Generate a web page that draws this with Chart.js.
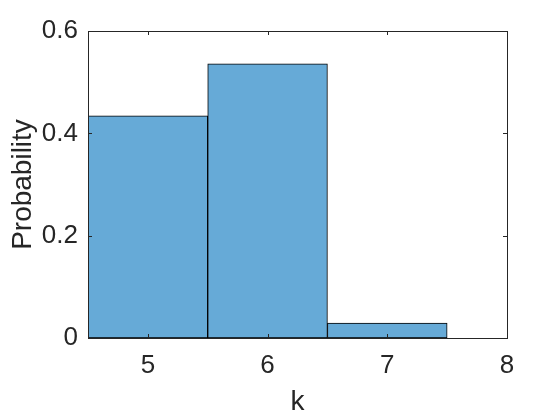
<!DOCTYPE html>
<html>
<head>
<meta charset="utf-8">
<script src="https://cdn.jsdelivr.net/npm/chart.js@4/dist/chart.umd.min.js"></script>
<style>
  html, body { margin: 0; padding: 0; background: #fff; }
  #wrap { width: 560px; height: 420px; }
</style>
</head>
<body>
<div id="wrap"><canvas id="hist"></canvas></div>
<script>
const kValues = [5, 6, 7];
const probabilities = [0.434, 0.536, 0.029];
const xTicks = [5, 6, 7, 8];
const yTicks = [0, 0.2, 0.4, 0.6];

const axisColor = '#262626';
const fontFamily = '"Liberation Sans", Arial, Helvetica, sans-serif';

// box around the plot plus inward ticks on all four sides, like matlab
const boxPlugin = {
    id: 'box',
    afterDatasetsDraw(chart) {
        const ctx = chart.ctx;
        const a = chart.chartArea;
        const xs = chart.scales.x;
        const ys = chart.scales.y;
        const len = 4;
        ctx.save();
        ctx.strokeStyle = axisColor;
        ctx.lineWidth = 1;
        ctx.beginPath();
        for (let v of xTicks) {
            const px = Math.round(xs.getPixelForValue(v)) + 0.5;
            ctx.moveTo(px, a.bottom);
            ctx.lineTo(px, a.bottom - len);
            ctx.moveTo(px, a.top);
            ctx.lineTo(px, a.top + len);
        }
        for (let v of yTicks) {
            const py = Math.round(ys.getPixelForValue(v)) + 0.5;
            ctx.moveTo(a.left, py);
            ctx.lineTo(a.left + len, py);
            ctx.moveTo(a.right, py);
            ctx.lineTo(a.right - len, py);
        }
        ctx.stroke();
        ctx.strokeRect(Math.round(a.left) + 0.5, Math.round(a.top) + 0.5,
            Math.round(a.right - a.left), Math.round(a.bottom - a.top));
        ctx.restore();
    }
};

new Chart(document.getElementById('hist'), {
    type: 'bar',
    data: {
        datasets: [{
            data: kValues.map((k, i) => ({ x: k, y: probabilities[i] })),
            backgroundColor: '#66AAD7',
            borderColor: '#000000',
            borderWidth: 1,
            borderSkipped: false,
            barPercentage: 1,
            categoryPercentage: 1
        }]
    },
    options: {
        responsive: true,
        maintainAspectRatio: false,
        animation: false,
        events: [],
        layout: { padding: { left: 0, right: 53, top: 31, bottom: 0 } },
        plugins: {
            legend: { display: false },
            tooltip: { enabled: false }
        },
        scales: {
            x: {
                type: 'linear',
                min: 4.5,
                max: 8,
                offset: false,
                grid: { display: false, drawTicks: false },
                border: { display: false },
                afterBuildTicks: s => { s.ticks = xTicks.map(v => ({ value: v })); },
                afterFit: s => { s.height = 82; },
                ticks: {
                    color: axisColor,
                    padding: 12,
                    maxRotation: 0,
                    font: { family: fontFamily, size: 26 },
                    callback: v => String(v)
                },
                title: {
                    display: true,
                    text: 'k',
                    color: axisColor,
                    padding: { top: 1, bottom: 1 },
                    font: { family: fontFamily, size: 28 }
                }
            },
            y: {
                min: 0,
                max: 0.6,
                grid: { display: false, drawTicks: false },
                border: { display: false },
                afterBuildTicks: s => { s.ticks = yTicks.map(v => ({ value: v })); },
                afterFit: s => { s.width = 88; },
                ticks: {
                    color: axisColor,
                    padding: 10,
                    font: { family: fontFamily, size: 26 },
                    callback: v => String(v)
                },
                title: {
                    display: true,
                    text: 'Probability',
                    color: axisColor,
                    padding: { top: 6, bottom: 6 },
                    font: { family: fontFamily, size: 28 }
                }
            }
        }
    },
    plugins: [boxPlugin]
});
</script>
</body>
</html>
